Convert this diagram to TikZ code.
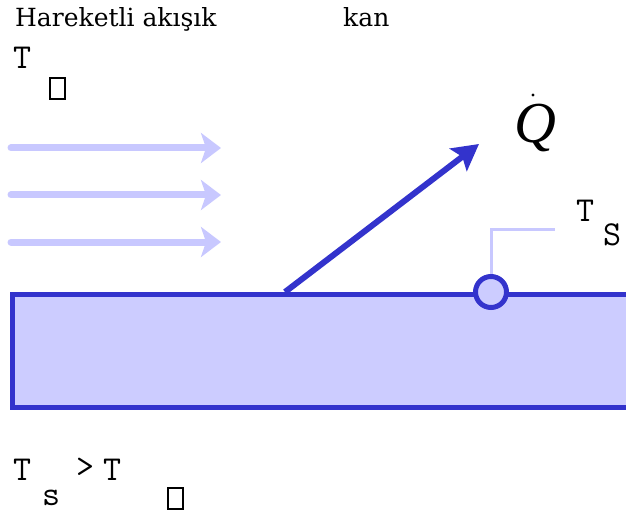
\documentclass[tikz,border=0pt]{standalone}
\usepackage{fontspec}
\setmainfont{DejaVu Serif}
\newfontfamily\timesfont{Liberation Serif}
\usetikzlibrary{arrows.meta}
\definecolor{platedark}{RGB}{51,51,204}
\definecolor{platelight}{RGB}{204,204,255}
\definecolor{flowlight}{RGB}{200,200,255}

\begin{document}
\begin{tikzpicture}[x=1pt, y=-1pt,
    lbl/.style={font=\fontsize{25}{30}\selectfont, inner sep=0pt, anchor=base west},
    sym/.style={font=\ttfamily\fontsize{35}{40}\selectfont, inner sep=0pt, anchor=base west},
    glyphbox/.style={draw, line width=1.4pt, minimum width=15pt, minimum height=21pt, inner sep=0pt},
    flow/.style={-{Stealth[length=20pt, width=30pt, inset=5pt]}, line width=7pt, line cap=round, flowlight},
    heat/.style={-{Stealth[length=26pt, width=28pt, inset=5pt]}, line width=6pt, platedark},
    plate/.style={rectangle, draw=platedark, fill=platelight, line width=5pt, inner sep=0pt,
                  minimum width=650pt, minimum height=113pt, anchor=north west},
    sensor/.style={circle, draw=platedark, fill=platelight, line width=5pt, minimum size=31pt, inner sep=0pt},
    leader/.style={flowlight, line width=3pt},
  ]
    \useasboundingbox (0,0) rectangle (626,513);

    % --- Labels top ---
    \node[lbl] (fluid) at (15,27) {Hareketli akışık};
    \node[lbl] (kan)   at (343,27) {kan};
    \node[sym] (tinf)  at (13,69) {T};
    \node[glyphbox] (tinfsub) at (57.5,88.5) {};

    % --- Flow arrows ---
    \foreach \yy [count=\i] in {148,195,242} {
      \coordinate (flow\i a) at (11,\yy);
      \coordinate (flow\i b) at (221,\yy);
      \draw[flow] (flow\i a) -- (flow\i b);
    }

    % --- Plate + sensor ---
    \node[plate] (plate) at (10,292) {};
    \coordinate (qfoot) at (285,292);
    \coordinate (qtip)  at (479,144);
    \draw[heat] (qfoot) -- (qtip);
    \node[sensor] (sensor) at (491,292) {};

    % --- Heat label ---
    \node[font=\timesfont\itshape\fontsize{58}{64}\selectfont, inner sep=0pt, anchor=base west] (qdot) at (514,143) {Q};
    \fill (533,95) circle (1.7pt) coordinate (qdotmark);

    % --- Surface temperature ---
    \coordinate (lbend) at (491,229);
    \coordinate (lend)  at (555,229);
    \draw[leader] (sensor.north) -- (lbend) -- (lend);
    \node[sym] (ts)  at (576,222) {T};
    \node[sym] (tss) at (603,245) {S};

    % --- Condition at bottom ---
    \node[sym] (cond)    at (13,480) {T};
    \node[sym] (condsub) at (42,505) {s};
    \node[sym] (gt)      at (76,477) {>};
    \node[sym] (cond2)   at (103,480) {T};
    \node[glyphbox] (cond2sub) at (175.5,498.5) {};
  \end{tikzpicture}
\end{document}
